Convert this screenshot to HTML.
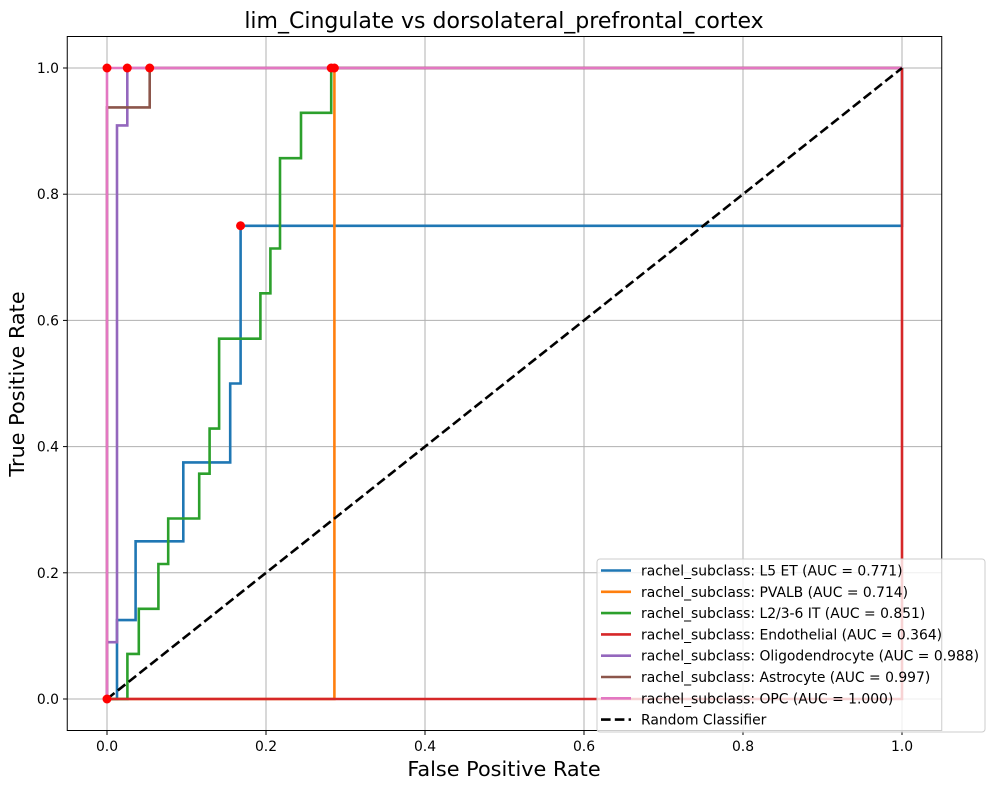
<!DOCTYPE html>
<html><head><meta charset="utf-8"><style>
body{margin:0;background:#fff;font-family:"Liberation Sans","DejaVu Sans",sans-serif;}
svg text{font-family:"DejaVu Sans","Liberation Sans",sans-serif;}
</style></head><body>
<svg id="chart" width="994" height="790" xmlns="http://www.w3.org/2000/svg">
<rect width="994" height="790" fill="#fff"/>
<text x="504" y="28" font-size="22" text-anchor="middle">lim_Cingulate vs dorsolateral_prefrontal_cortex</text>
<text x="504" y="776" font-size="20.8" text-anchor="middle">False Positive Rate</text>
<text x="24" y="384" font-size="20.8" text-anchor="middle" transform="rotate(-90 24 384)">True Positive Rate</text>
<g id="grid"></g><g id="ticks"></g><g id="lines"></g><g id="dots"></g>
<rect x="67.25" y="36.5" width="874.5" height="694" fill="none" stroke="#000" stroke-width="1"/>
<g id="legend"></g>
</svg>
<script>
const tickVals=[0,0.2,0.4,0.6,0.8,1.0];
const tickLabels=["0.0","0.2","0.4","0.6","0.8","1.0"];
const seriesNames=["rachel_subclass: L5 ET (AUC = 0.771)","rachel_subclass: PVALB (AUC = 0.714)","rachel_subclass: L2/3-6 IT (AUC = 0.851)","rachel_subclass: Endothelial (AUC = 0.364)","rachel_subclass: Oligodendrocyte (AUC = 0.988)","rachel_subclass: Astrocyte (AUC = 0.997)","rachel_subclass: OPC (AUC = 1.000)"];
const colors=["#1f77b4","#ff7f0e","#2ca02c","#d62728","#9467bd","#8c564b","#e377c2"];
const fprL5=[0,0.0126,0.0126,0.036,0.036,0.096,0.096,0.155,0.155,0.168,0.168,1,1];
const tprL5=[0,0,0.125,0.125,0.25,0.25,0.375,0.375,0.5,0.5,0.75,0.75,1];
const fprPV=[0,0.286,0.286,1];
const tprPV=[0,0,1,1];
const fprL23=[0,0.0256,0.0256,0.04,0.04,0.0646,0.0646,0.077,0.077,0.116,0.116,0.129,0.129,0.141,0.141,0.193,0.193,0.2055,0.2055,0.2176,0.2176,0.244,0.244,0.282,0.282,1];
const tprL23=[0,0,0.0714,0.0714,0.143,0.143,0.214,0.214,0.286,0.286,0.357,0.357,0.4286,0.4286,0.571,0.571,0.643,0.643,0.714,0.714,0.857,0.857,0.929,0.929,1,1];
const fprEndo=[0,1,1];
const tprEndo=[0,0,1];
const fprOligo=[0,0,0.0126,0.0126,0.0255,0.0255,1];
const tprOligo=[0,0.09,0.09,0.909,0.909,1,1];
const fprAstro=[0,0,0.0537,0.0537,1];
const tprAstro=[0,0.9375,0.9375,1,1];
const fprOPC=[0,0,1];
const tprOPC=[0,1,1];
const dotX=[0.168,0.282,0.286,0,0.0255,0.0537,0];
const dotY=[0.75,1,1,0,1,1,1];
const NS="http://www.w3.org/2000/svg";
const sx=v=>107+v*795, sy=v=>699-v*631;
function mk(t,a,p){const e=document.createElementNS(NS,t);for(const k in a)e.setAttribute(k,a[k]);p.appendChild(e);return e;}
const grid=document.getElementById('grid'),ticks=document.getElementById('ticks');
tickVals.forEach((v,i)=>{
 let g=mk('line',{x1:sx(v),x2:sx(v),y1:36.5,y2:730.5,stroke:'#b0b0b0','stroke-width':1},grid);
 
 
 g=mk('line',{x1:67.25,x2:941.75,y1:sy(v),y2:sy(v),stroke:'#b0b0b0','stroke-width':1},grid);
 
 
 mk('line',{x1:sx(v),x2:sx(v),y1:730.5,y2:735,stroke:'#000'},ticks);
 mk('line',{x1:63,x2:67.25,y1:sy(v),y2:sy(v),stroke:'#000'},ticks);
 let t=mk('text',{x:sx(v),y:751,'font-size':13.9,'text-anchor':'middle'},ticks);t.textContent=tickLabels[i];
 
 
 t=mk('text',{x:59,y:sy(v)+5,'font-size':13.9,'text-anchor':'end'},ticks);t.textContent=tickLabels[i];
 
 
});
const series=[[fprL5,tprL5],[fprPV,tprPV],[fprL23,tprL23],[fprEndo,tprEndo],[fprOligo,tprOligo],[fprAstro,tprAstro],[fprOPC,tprOPC]];
const lines=document.getElementById('lines');
series.forEach((s,i)=>{
 const pts=s[0].map((x,j)=>sx(x).toFixed(1)+','+sy(s[1][j]).toFixed(1)).join(' ');
 const p=mk('polyline',{points:pts,fill:'none',stroke:colors[i],'stroke-width':2.6,'stroke-linejoin':'miter'},lines);
 
 
});
const diag=mk('line',{x1:sx(0),y1:sy(0),x2:sx(1),y2:sy(1),stroke:'#000','stroke-width':2.6,'stroke-dasharray':'9.6,4.2'},lines);


const dots=document.getElementById('dots');
dotX.forEach((x,i)=>{const c=mk('circle',{cx:sx(x),cy:sy(dotY[i]),r:4.5,fill:'#ff0000'},dots);
 
 });
const lg=document.getElementById('legend');
mk('rect',{x:597,y:559,width:388,height:173,rx:3,fill:'#fff','fill-opacity':0.8,stroke:'#cccccc'},lg);
const names=seriesNames.concat(["Random Classifier"]);
names.forEach((n,i)=>{
 const y=570.5+i*21.3;
 const e=mk('g',{},lg);
 
 
 if(i<7) mk('line',{x1:601,x2:631,y1:y,y2:y,stroke:colors[i],'stroke-width':2.6},e);
 else mk('line',{x1:601,x2:631,y1:y,y2:y,stroke:'#000','stroke-width':2.6,'stroke-dasharray':'9.6,4.2'},e);
 const t=mk('text',{x:641,y:y+5,'font-size':13.9},e);t.textContent=n;
});
</script>
</body></html>
